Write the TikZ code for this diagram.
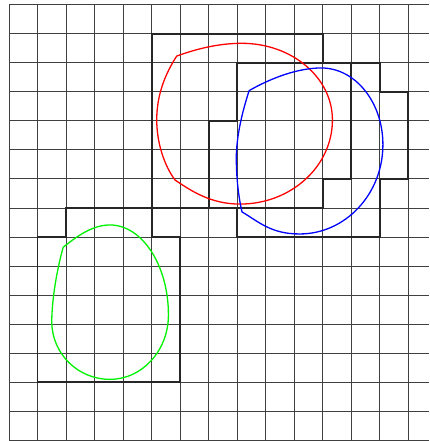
\documentclass[tikz,border=0pt]{standalone}
\begin{document}
\begin{tikzpicture}[x=28.52pt,y=-29.02pt,
  gridline/.style={draw=black!75, line width=0.7pt},
  region/.style={draw=black!85, line width=1.9pt, line join=miter},
  curve/.style={line width=1.3pt}]
\useasboundingbox (-0.3156,-0.162) rectangle (14.727,15.034);
\fill[white] (-0.3156,-0.162) rectangle (14.727,15.034);
\foreach \i in {0,...,14} \draw[gridline] (\i,0) -- (\i,15);
\foreach \j in {0,...,15} \draw[gridline] (0,\j) -- (14.727,\j);
% regions
\draw[region] (1,8)--(2,8)--(2,7)--(5,7)--(5,8)--(6,8)--(6,13)--(1,13)--cycle;
\draw[region] (5,1)--(11,1)--(11,2)--(12,2)--(12,6)--(11,6)--(11,7)--(5,7)--cycle;
\draw[region] (8,2)--(13,2)--(13,3)--(14,3)--(14,6)--(13,6)--(13,8)--(8,8)--(8,7)--(7,7)--(7,4)--(8,4)--cycle;
% red curve
\draw[curve, red] (5.88,1.77)
  .. controls (6.58,1.52) and (7.36,1.33) .. (8.16,1.33)
  .. controls (9.92,1.33) and (11.34,2.51) .. (11.34,3.97)
  .. controls (11.34,5.57) and (9.89,6.87) .. (8.10,6.87)
  .. controls (7.10,6.87) and (6.42,6.44) .. (5.82,6.04)
  .. controls (5.45,5.55) and (5.18,4.77) .. (5.18,3.97)
  .. controls (5.18,3.07) and (5.50,2.35) .. (5.88,1.77);
% blue curve
\draw[curve, blue] (8.42,2.96)
  .. controls (9.22,2.51) and (10.15,2.18) .. (10.95,2.18)
  .. controls (12.14,2.18) and (13.11,3.36) .. (13.11,4.82)
  .. controls (13.11,6.52) and (11.80,7.90) .. (10.19,7.90)
  .. controls (9.19,7.90) and (8.77,7.49) .. (8.17,7.14)
  .. controls (8.05,6.64) and (7.97,5.98) .. (7.97,5.28)
  .. controls (7.97,4.48) and (8.22,3.56) .. (8.42,2.96);
% green curve
\draw[curve, green!95!black] (1.90,8.36)
  .. controls (2.40,7.96) and (2.94,7.59) .. (3.54,7.59)
  .. controls (4.67,7.59) and (5.59,8.98) .. (5.59,10.69)
  .. controls (5.59,11.92) and (4.67,12.91) .. (3.54,12.91)
  .. controls (2.41,12.91) and (1.50,12.02) .. (1.50,10.92)
  .. controls (1.50,10.02) and (1.75,8.86) .. (1.90,8.36);
\end{tikzpicture}
\end{document}
